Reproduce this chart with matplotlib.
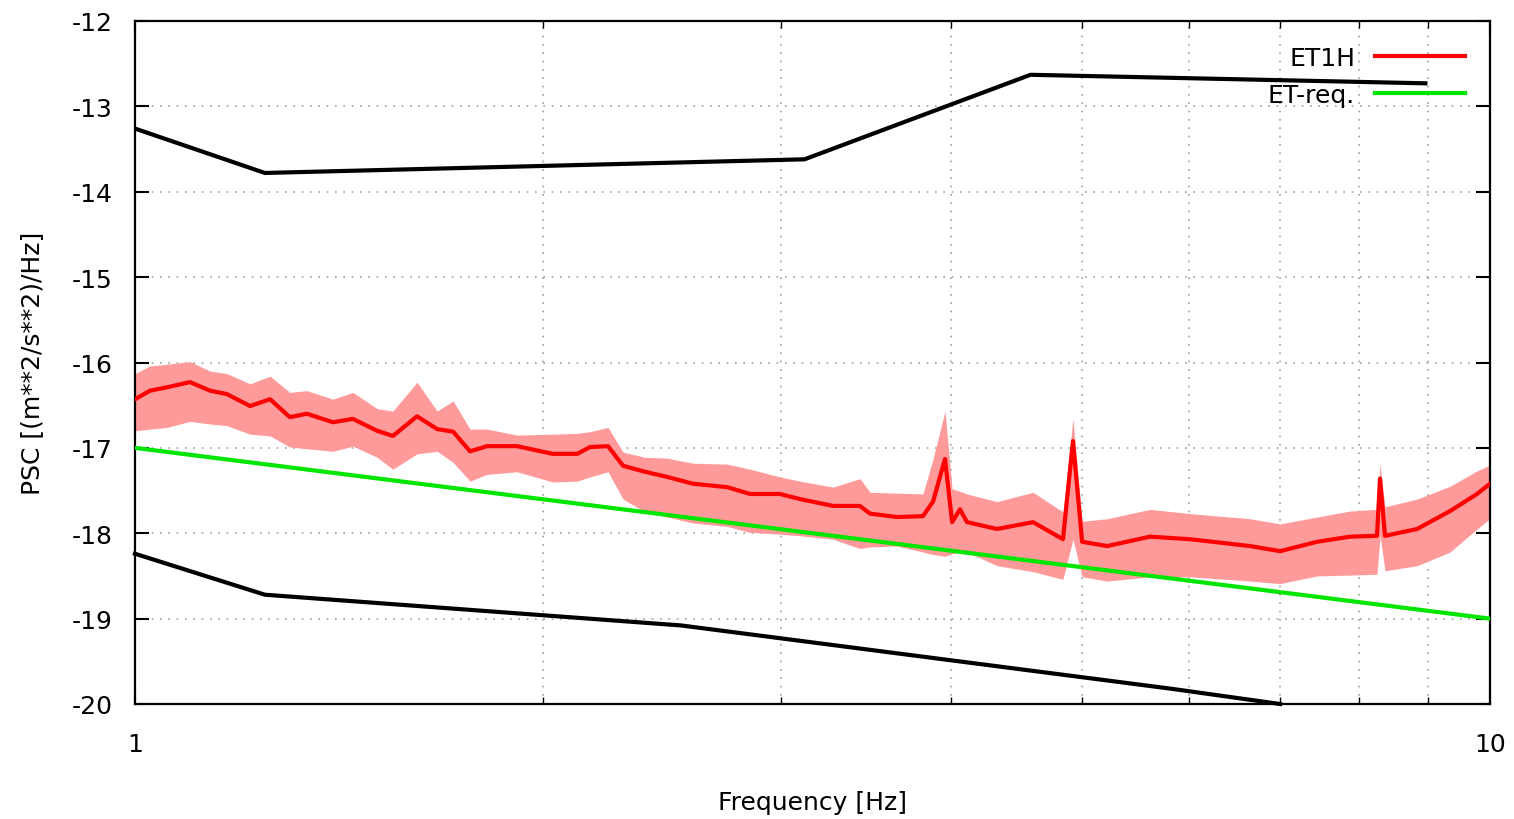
#!/usr/bin/env python3

import matplotlib

matplotlib.use("Agg")
import matplotlib.pyplot as plt
from matplotlib.ticker import FixedLocator, NullFormatter

# frequency grid [Hz] and log10 PSC of ET1H (mean, upper and lower band)
freq = [1.000, 1.026, 1.056, 1.098, 1.136, 1.169, 1.216, 1.258, 1.301, 1.339,
        1.400, 1.448, 1.509, 1.550, 1.615, 1.671, 1.717, 1.767, 1.819, 1.914,
        2.034, 2.120, 2.167, 2.234, 2.292, 2.379, 2.470, 2.581, 2.735, 2.844,
        2.992, 3.096, 3.275, 3.428, 3.487, 3.651, 3.815, 3.881, 3.961, 4.009,
        4.063, 4.112, 4.327, 4.600, 4.840, 4.923, 5.000, 5.217, 5.612, 6.006,
        6.652, 7.000, 7.454, 7.884, 8.253, 8.295, 8.366, 8.835, 9.344, 9.782,
        10.0]
et1h_mean = [-16.43, -16.33, -16.29, -16.23, -16.33, -16.37, -16.51, -16.43, -16.64, -16.60,
             -16.70, -16.66, -16.80, -16.86, -16.63, -16.78, -16.81, -17.04, -16.98, -16.98,
             -17.07, -17.07, -16.99, -16.98, -17.21, -17.28, -17.34, -17.42, -17.46, -17.54,
             -17.54, -17.60, -17.68, -17.68, -17.77, -17.81, -17.80, -17.63, -17.13, -17.87,
             -17.72, -17.87, -17.95, -17.87, -18.07, -16.92, -18.10, -18.15, -18.04, -18.07,
             -18.15, -18.21, -18.10, -18.04, -18.03, -17.36, -18.03, -17.95, -17.74, -17.54,
             -17.42]
et1h_upper = [-16.13, -16.04, -16.02, -15.99, -16.10, -16.13, -16.25, -16.16, -16.35, -16.33,
              -16.43, -16.35, -16.54, -16.57, -16.23, -16.57, -16.45, -16.78, -16.78, -16.85,
              -16.84, -16.83, -16.81, -16.76, -17.05, -17.11, -17.12, -17.18, -17.19, -17.25,
              -17.34, -17.39, -17.46, -17.36, -17.52, -17.53, -17.54, -17.13, -16.57, -17.48,
              -17.51, -17.54, -17.63, -17.52, -17.75, -16.66, -17.86, -17.83, -17.72, -17.77,
              -17.83, -17.89, -17.81, -17.74, -17.72, -17.19, -17.69, -17.60, -17.45, -17.27,
              -17.20]
et1h_lower = [-16.80, -16.78, -16.76, -16.69, -16.72, -16.74, -16.84, -16.86, -16.99, -17.01,
              -17.04, -16.98, -17.11, -17.25, -17.07, -17.04, -17.17, -17.39, -17.31, -17.28,
              -17.40, -17.39, -17.34, -17.28, -17.60, -17.75, -17.81, -17.88, -17.92, -17.99,
              -18.01, -18.03, -18.07, -18.18, -18.16, -18.15, -18.22, -18.25, -18.27, -18.24,
              -18.22, -18.22, -18.38, -18.45, -18.54, -18.07, -18.51, -18.56, -18.51, -18.51,
              -18.56, -18.59, -18.50, -18.49, -18.48, -18.03, -18.44, -18.38, -18.22, -17.95,
              -17.83]

# ET requirement line
req_freq = [1.0, 10.0]
req_psc = [-17.0, -19.0]

# black envelope lines
high_freq = [1.0, 1.247, 3.12, 4.58, 8.96]
high_psc = [-13.26, -13.78, -13.62, -12.63, -12.73]
low_freq = [1.0, 1.247, 2.53, 5.81, 7.0]
low_psc = [-18.24, -18.72, -19.08, -19.82, -20.0]

minor_ticks = [2, 3, 4, 5, 6, 7, 8, 9]


def main() -> int:
    plt.rcParams["font.family"] = ["DejaVu Sans"]
    plt.rcParams["axes.unicode_minus"] = False
    fig = plt.figure(figsize=(15.14, 8.2), dpi=100)
    ax = fig.add_axes([135 / 1514, 1 - 705 / 820, 1355 / 1514, 683 / 820])

    ax.fill_between(freq, et1h_lower, et1h_upper, color="#ff9a9a", lw=0, zorder=2)
    ax.plot(freq, et1h_mean, color="#ff0000", lw=3, label="ET1H", zorder=3)
    ax.plot(req_freq, req_psc, color="#00e600", lw=3, label="ET-req.", zorder=4)
    ax.plot(high_freq, high_psc, color="black", lw=3, zorder=4)
    ax.plot(low_freq, low_psc, color="black", lw=3, zorder=4, clip_on=False)

    ax.set_xscale("log")
    ax.set_xlim(1, 10)
    ax.set_ylim(-20, -12)
    ax.xaxis.set_major_locator(FixedLocator([1, 10]))
    ax.xaxis.set_minor_locator(FixedLocator(minor_ticks))
    ax.xaxis.set_minor_formatter(NullFormatter())
    ax.set_xticklabels(["1", "10"])
    ax.set_yticks(range(-20, -11))

    ax.grid(True, which="minor", axis="x", color="#a0a0a0", ls=(0, (1, 4)), lw=1.2)
    ax.grid(True, which="major", axis="y", color="#a0a0a0", ls=(0, (1, 4)), lw=1.2)

    ax.tick_params(which="both", direction="in", top=True, right=True, labelsize=18)
    ax.tick_params(axis="y", pad=16)
    ax.tick_params(axis="x", pad=20)
    ax.tick_params(which="major", length=10, width=1.5)
    ax.tick_params(which="minor", length=5, width=1)
    for s in ax.spines.values():
        s.set_linewidth(1.6)

    ax.set_xlabel("Frequency [Hz]", fontsize=18, labelpad=25)
    ax.set_ylabel("PSC [(m**2/s**2)/Hz]", fontsize=18, labelpad=20)

    ax.legend(loc="upper right", frameon=False, fontsize=18, markerfirst=False,
              handlelength=3.6, borderaxespad=0.6, labelspacing=0.5, handletextpad=0.8)

    fig.savefig("out.png", dpi=100)
    plt.close(fig)
    return 0


if __name__ == "__main__":
    raise SystemExit(main())
